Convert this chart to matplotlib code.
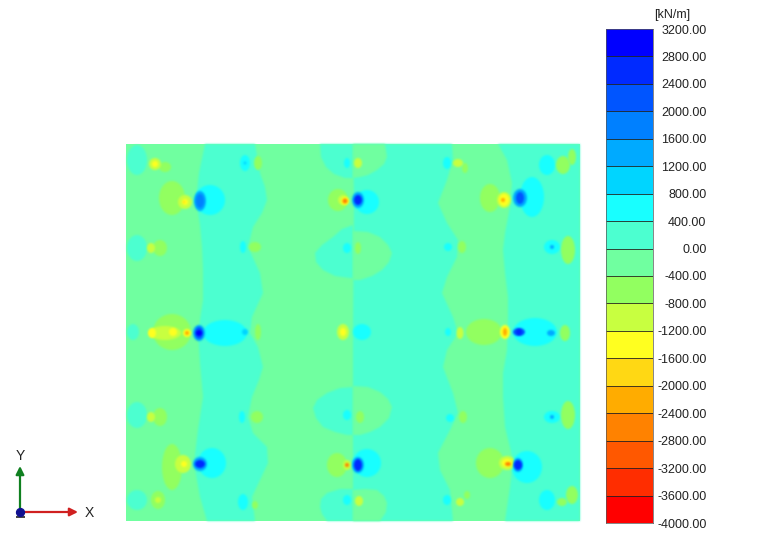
import numpy as np
import matplotlib
matplotlib.use('Agg')
import matplotlib.pyplot as plt
from matplotlib.patches import Ellipse

plt.rcParams['font.family'] = ['Liberation Sans', 'DejaVu Sans']

# Legende
levels = [-4000, -3600, -3200, -2800, -2400, -2000, -1600, -1200, -800, -400,
          0, 400, 800, 1200, 1600, 2000, 2400, 2800, 3200]
band_colors = ['#FF0000', '#FF2D00', '#FF5800', '#FF8200', '#FFAC00', '#FFD814',
               '#FFFF20', '#C8FF40', '#92FF60', '#70FFA0', '#4CFFD0', '#18FFFF',
               '#00D5FF', '#00AAFF', '#0080FF', '#0055FF', '#002AFF', '#0000FF']

# Nulllinien: Positionen im Modell (x, y)
strip1_left_y = [144, 173, 200, 225, 247, 270, 300, 333, 363, 397, 430, 463, 497, 521]
strip1_left_x = [205, 199, 196, 200, 202, 203, 203, 198, 200, 203, 198, 194, 200, 207]
strip1_right_y = [144, 173, 187, 200, 213, 227, 247, 260, 273, 293, 317, 333, 347, 367, 380,
                  397, 417, 433, 447, 463, 480, 497, 521]
strip1_right_x = [255, 260, 265, 267, 262, 253, 248, 254, 260, 263, 252, 250, 258, 263, 259,
                  252, 248, 253, 267, 268, 260, 252, 255]

center_y = [144, 200, 333, 521]
center_x = [353, 354, 353, 353]
strip2_right_y = [144, 160, 180, 203, 223, 240, 257, 277, 293, 317, 333, 350, 367, 393, 413,
                  430, 453, 470, 490, 521]
strip2_right_x = [452, 453, 447, 438, 447, 458, 457, 447, 442, 453, 458, 447, 443, 453, 458,
                  450, 438, 440, 450, 453]

strip3_left_y = [144, 160, 183, 207, 233, 250, 273, 297, 317, 350, 373, 397, 427, 460, 487, 521]
strip3_left_x = [498, 507, 512, 510, 505, 503, 505, 508, 508, 507, 503, 503, 505, 513, 510, 505]

# Keulen links der Mittellinie (positiv)
lobe_a_x = [320, 321, 326, 334, 345, 353, 353]
lobe_a_y = [144, 157, 167, 174, 178, 178, 144]
lobe_b_x = [353, 342, 333, 322, 315, 316, 323, 335, 350, 353]
lobe_b_y = [225, 229, 237, 245, 253, 262, 270, 276, 278, 278]
lobe_c_x = [353, 340, 327, 317, 313, 316, 323, 335, 347, 353]
lobe_c_y = [387, 388, 393, 400, 408, 418, 427, 432, 435, 435]
lobe_d_x = [353, 340, 327, 321, 320, 322, 327, 353]
lobe_d_y = [489, 489, 493, 499, 507, 514, 521, 521]

# Keulen rechts der Mittellinie (negativ)
lobe_e_x = [353, 385, 387, 384, 377, 368, 360, 353]
lobe_e_y = [144, 144, 157, 164, 170, 175, 177, 178]
lobe_f_x = [353, 368, 380, 388, 392, 389, 382, 372, 360, 353]
lobe_f_y = [231, 232, 237, 245, 253, 262, 270, 276, 280, 280]
lobe_g_x = [353, 368, 380, 388, 392, 389, 380, 370, 360, 353]
lobe_g_y = [386, 387, 392, 399, 407, 418, 427, 432, 435, 435]
lobe_h_x = [353, 365, 377, 384, 387, 386, 380, 353]
lobe_h_y = [490, 489, 490, 496, 503, 512, 521, 521]

# Spannungsspitzen: x, y, rx, ry, Wert
spots_163 = [(137, 160, 10, 15, 200), (155, 164, 6, 6, -1000), (155, 164, 3, 3, -1400), (165, 167, 6, 5, -600),
             (245, 163, 5, 8, 600), (245, 163, 1.5, 1.5, 1000), (258, 163, 4, 7, -600),
             (347, 163, 3, 5, 600), (358, 163, 4, 5, -1000),
             (447, 163, 4, 6, 600), (458, 163, 5, 4, -1200), (465, 168, 3, 5, -800),
             (547, 165, 8, 10, 600), (563, 165, 7, 9, -600), (572, 157, 4, 8, -600)]
spots_201 = [(172, 198, 13, 17, -600), (185, 202, 7, 7, -1000), (185, 202, 3, 3, -1400), (184, 202, 1, 1, -2000),
             (210, 200, 15, 15, 600), (200, 201, 6, 10, 1200), (200, 201, 4, 7, 1800),
             (338, 200, 10, 11, -600), (343, 200, 5, 5, -1000), (345, 201, 4, 4, -1400), (345, 201, 2.5, 2.5, -2600),
             (367, 202, 12, 12, 600), (358, 200, 6, 8, 1200), (358, 200, 4, 5, 2400),
             (490, 198, 10, 14, -600), (504, 200, 7, 8, -1000), (504, 200, 5, 6, -1400), (503, 200, 2, 2, -2400),
             (532, 197, 12, 20, 600), (520, 198, 7, 9, 1200), (520, 198, 4, 6, 2000)]
spots_247 = [(137, 248, 10, 13, 200), (151, 248, 4, 5, -1200), (160, 248, 7, 8, -600),
             (243, 247, 3, 6, 600), (255, 247, 6, 5, -800),
             (347, 248, 4, 5, 600), (358, 248, 3, 6, -800),
             (448, 247, 4, 4, 600), (462, 247, 4, 6, -800),
             (552, 247, 8, 7, 600), (552, 247, 2, 2, 1400), (568, 250, 7, 14, -600), (570, 250, 2, 5, -200)]
spots_333 = [(133, 332, 6, 8, 200), (172, 332, 19, 18, -600), (165, 333, 16, 7, -1000), (152, 333, 4, 5, -1400),
             (173, 332, 4, 4, -1400), (187, 333, 4, 4, -1400), (187, 333, 2, 2, -2400),
             (225, 333, 22, 13, 600), (245, 332, 3, 3, 1000), (199, 333, 6, 8, 1200), (199, 333, 4, 6, 2000),
             (199, 333, 3, 3, 2800), (258, 332, 3, 8, -600),
             (343, 332, 6, 8, -1000), (343, 332, 3, 4, -1400), (362, 332, 9, 8, 600),
             (460, 333, 3.5, 6, -1000), (448, 332, 3, 4, 600), (484, 332, 18, 13, -600),
             (505, 332, 5, 7, -1400), (505, 332, 2, 4, -2200),
             (535, 332, 22, 14, 600), (519, 332, 6, 4, 2000), (519, 332, 3, 3, 2600), (551, 333, 4, 3, 1200),
             (565, 333, 5, 8, -600)]
spots_417 = [(137, 415, 10, 13, 200), (151, 417, 4, 5, -1200), (160, 417, 7, 9, -600),
             (242, 417, 3, 6, 600), (257, 417, 6, 6, -800),
             (347, 415, 4, 5, 600), (360, 417, 4, 6, -800),
             (450, 418, 4, 4, 600), (463, 417, 4, 6, -800),
             (552, 417, 8, 6, 600), (552, 417, 2, 2, 1400), (568, 415, 7, 14, -600), (570, 415, 2, 5, -200)]
spots_463 = [(172, 467, 10, 23, -600), (183, 464, 8, 9, -1000), (184, 464, 3, 3, -1400),
             (212, 463, 14, 15, 600), (200, 464, 7, 7, 1200), (200, 464, 5, 4, 2600),
             (337, 465, 10, 12, -600), (347, 465, 4, 5, -1000), (347, 465, 2, 2, -2600),
             (367, 463, 14, 14, 600), (358, 465, 6, 8, 1200), (358, 465, 4, 6, 2400),
             (490, 463, 14, 15, -600), (507, 463, 8, 7, -1000), (507, 463, 5, 4, -1400), (508, 464, 3, 2, -2800),
             (527, 467, 15, 16, 600), (518, 465, 5, 7, 1200), (518, 465, 4, 5, 2400)]
spots_500 = [(137, 500, 10, 10, 200), (158, 500, 7, 9, -600), (158, 500, 3, 3, -1000),
             (243, 502, 5, 8, 600), (255, 505, 3, 4, -600),
             (347, 500, 4, 5, 600), (359, 501, 4, 5, -1000),
             (447, 500, 4, 5, 600), (460, 502, 4, 4, -1200), (467, 495, 3, 4, -800),
             (547, 500, 8, 10, 600), (562, 502, 5, 4, -800), (572, 495, 6, 9, -600)]

tick_labels = [f'{v:.2f}' for v in levels]


def band_color(value):
    return band_colors[np.digitize(value, levels) - 1]


# Weichzeichner fuer die Konturflaechen (nur Alpha, Farbe bleibt)
def soften(img, dpi):
    pad = 3
    kernel = np.array([1, 4, 6, 4, 1]) / 16
    alpha = np.pad(img[:, :, 3], pad)
    alpha = np.apply_along_axis(np.convolve, 0, alpha, kernel, mode='same')
    alpha = np.apply_along_axis(np.convolve, 1, alpha, kernel, mode='same')
    out = np.zeros(alpha.shape + (4,))
    i, j = np.unravel_index(np.argmax(img[:, :, 3]), img.shape[:2])
    out[:, :, :3] = img[i, j, :3]
    out[:, :, 3] = alpha
    return out, -pad, -pad


fig = plt.figure(figsize=(7.64, 5.36), dpi=100)
W, H = 764, 536

# Konturbild
ax = fig.add_axes([126 / W, 1 - 521 / H, (580 - 126) / W, (521 - 144) / H])
ax.set_xlim(126, 580)
ax.set_ylim(521, 144)
ax.axis('off')

neg = band_color(-200)
pos = band_color(200)
ax.fill([126, 580, 580, 126], [144, 144, 521, 521], color=neg, lw=0)
regions = [(strip1_left_x + strip1_right_x[::-1], strip1_left_y + strip1_right_y[::-1], pos),
           (center_x + strip2_right_x[::-1], center_y + strip2_right_y[::-1], pos),
           (strip3_left_x + [580, 580], strip3_left_y + [521, 144], pos),
           (lobe_a_x, lobe_a_y, pos), (lobe_b_x, lobe_b_y, pos), (lobe_c_x, lobe_c_y, pos), (lobe_d_x, lobe_d_y, pos),
           (lobe_e_x, lobe_e_y, neg), (lobe_f_x, lobe_f_y, neg), (lobe_g_x, lobe_g_y, neg), (lobe_h_x, lobe_h_y, neg)]
for rx, ry, c in regions:
    for p in ax.fill(rx, ry, color=c, lw=0):
        p.set_agg_filter(soften)

spots = spots_163 + spots_201 + spots_247 + spots_333 + spots_417 + spots_463 + spots_500
for cx, cy, rx, ry, v in sorted(spots, key=lambda s: abs(s[4])):
    e = Ellipse((cx, cy), 2 * rx, 2 * ry, color=band_color(v), lw=0)
    e.set_agg_filter(soften)
    ax.add_patch(e)

# Farbskala
cax = fig.add_axes([606 / W, 1 - 523 / H, (653 - 606) / W, (523 - 29) / H])
cax.barh(levels[:-1], np.diff(levels), height=np.diff(levels), left=0, align='edge', color=band_colors)
cax.hlines(levels[1:-1], 0, 400, color='#222222', lw=0.6)
cax.set_xlim(0, 400)
cax.set_ylim(-4000, 3200)
cax.set_xticks([])
cax.yaxis.tick_right()
cax.set_yticks(levels)
cax.set_yticklabels(tick_labels, ha='right', fontsize=9, color='#222222')
cax.tick_params(axis='y', length=0, pad=38.5)
for s in cax.spines.values():
    s.set_linewidth(0.5)
    s.set_color('#555555')
fig.text(672 / W, 1 - 15 / H, '[kN/m]', ha='center', va='center', fontsize=9, color='#222222')

# Koordinatenachsen
tri = fig.add_axes([0, 0, 1, 1], facecolor='none')
tri.set_xlim(0, W)
tri.set_ylim(H, 0)
tri.axis('off')
tri.annotate('', xy=(20, 466), xytext=(20, 512),
             arrowprops=dict(arrowstyle='-|>', color='#108020', lw=1.6, mutation_scale=12, shrinkA=0, shrinkB=0))
tri.annotate('', xy=(78, 512), xytext=(20, 512),
             arrowprops=dict(arrowstyle='-|>', color='#D02020', lw=1.6, mutation_scale=12, shrinkA=0, shrinkB=0))
tri.scatter([20], [512], s=32, color='#101090', zorder=5)
tri.hlines([517], 16, 25, color='#222222', lw=1.2)
tri.text(20, 456, 'Y', ha='center', va='center', fontsize=10, color='#222222')
tri.text(89, 513, 'X', ha='center', va='center', fontsize=10, color='#222222')

fig.savefig('out.png', dpi=100)
